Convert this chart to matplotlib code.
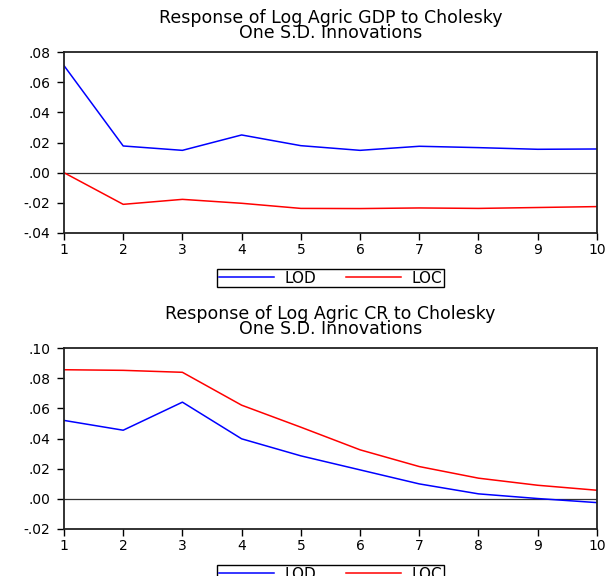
import matplotlib
matplotlib.use('Agg')
import matplotlib.pyplot as plt
from matplotlib.ticker import FuncFormatter

plt.rcParams['font.family'] = ['DejaVu Sans']

periods = [1, 2, 3, 4, 5, 6, 7, 8, 9, 10]

# Response of Log Agric GDP
gdp_lod = [0.071, 0.0177, 0.0148, 0.025, 0.0179, 0.0148, 0.0175, 0.0166, 0.0155, 0.0157]
gdp_loc = [0.0, -0.021, -0.0177, -0.0203, -0.0237, -0.0238, -0.0234, -0.0237, -0.0231, -0.0225]

# Response of Log Agric CR
cr_lod = [0.052, 0.0455, 0.0641, 0.0398, 0.0285, 0.0192, 0.0099, 0.0033, 0.0002, -0.0025]
cr_loc = [0.0856, 0.0852, 0.0839, 0.0621, 0.0475, 0.0325, 0.0214, 0.0137, 0.009, 0.0057]

titles = ['Response of Log Agric GDP to Cholesky\nOne S.D. Innovations',
          'Response of Log Agric CR to Cholesky\nOne S.D. Innovations']
ylims = [(-0.04, 0.08), (-0.02, 0.10)]


def fmt(v, pos):
    s = '%.2f' % v
    if s.startswith('-0'):
        return '-' + s[2:]
    if s.startswith('0'):
        return s[1:]
    return s


fig = plt.figure(figsize=(6.07, 5.76), dpi=100)
ax1 = fig.add_axes([0.1054, 0.5955, 0.878, 0.3142])
ax2 = fig.add_axes([0.1054, 0.0816, 0.878, 0.3142])

for ax, lod, loc, title, yl in [(ax1, gdp_lod, gdp_loc, titles[0], ylims[0]),
                                (ax2, cr_lod, cr_loc, titles[1], ylims[1])]:
    ax.plot(periods, lod, color='#0000ff', lw=1.1, label='LOD')
    ax.plot(periods, loc, color='#ff0000', lw=1.1, label='LOC')
    ax.axhline(0, color='#333333', lw=0.9, zorder=0)
    ax.set_xlim(1, 10)
    ax.set_ylim(*yl)
    ax.set_xticks(periods)
    ax.set_yticks([yl[0] + 0.02 * i for i in range(7)])
    ax.yaxis.set_major_formatter(FuncFormatter(fmt))
    ax.tick_params(direction='out', length=5, width=1, labelsize=10, pad=2)
    ax.tick_params(axis='y', pad=5)
    for sp in ax.spines.values():
        sp.set_linewidth(1.3)
        sp.set_color('#222222')
    ax.set_title(title, fontsize=12.5, linespacing=0.8, pad=10)
    leg = ax.legend(loc='upper center', bbox_to_anchor=(0.5, -0.155), ncol=2,
                    fancybox=False, framealpha=1, edgecolor='black', fontsize=11,
                    handlelength=3.6, columnspacing=1.9, borderpad=0.12,
                    handletextpad=0.7)
    leg.get_frame().set_linewidth(1.0)

fig.savefig('out.png', dpi=100)
